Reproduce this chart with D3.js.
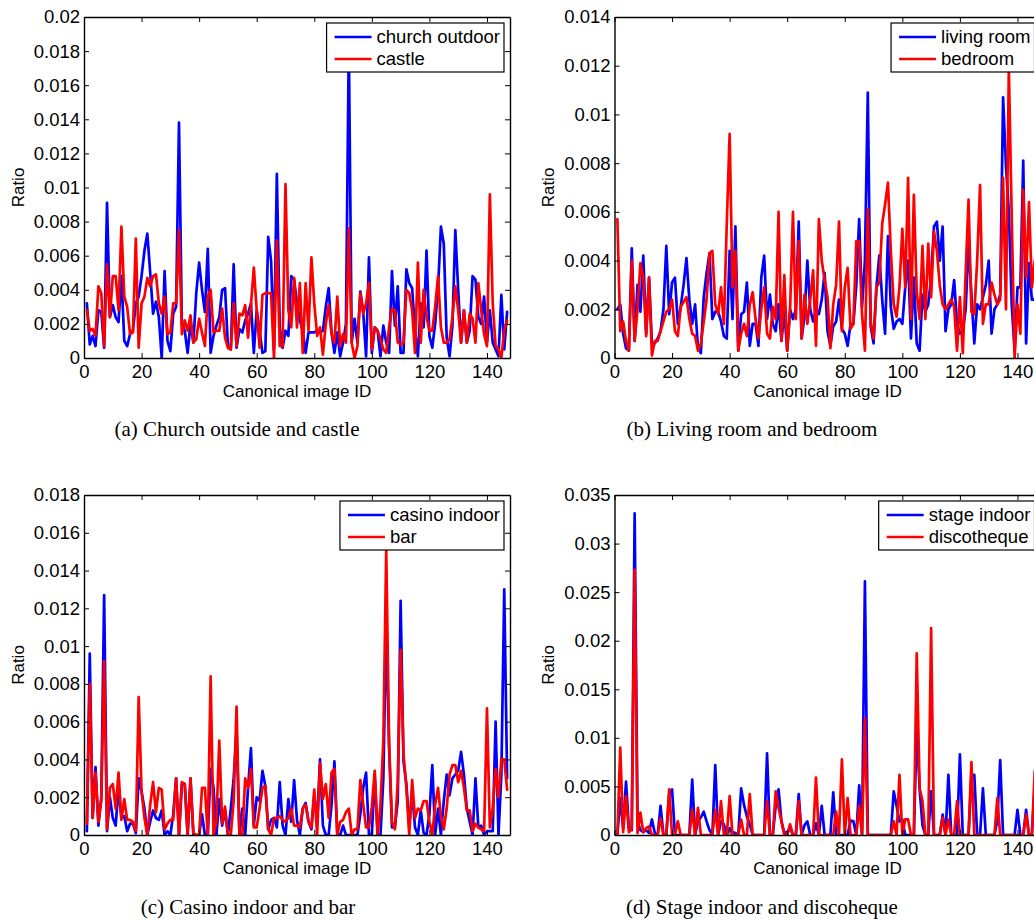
<!DOCTYPE html>
<html>
<head>
<meta charset="utf-8">
<script src="https://cdn.jsdelivr.net/npm/d3@7"></script>
<style>
  body { margin: 0; background: #fff; }
  svg { display: block; }
</style>
</head>
<body>
<svg id="fig" width="1034" height="922"></svg>
<script>
// Canonical image IDs shared by every panel
const imageIds = d3.range(1, 148);
const xTicks = [0, 20, 40, 60, 80, 100, 120, 140];

const yTicksA = [0, 0.002, 0.004, 0.006, 0.008, 0.01, 0.012, 0.014, 0.016, 0.018, 0.02];
const yTicksB = [0, 0.002, 0.004, 0.006, 0.008, 0.01, 0.012, 0.014];
const yTicksC = [0, 0.002, 0.004, 0.006, 0.008, 0.01, 0.012, 0.014, 0.016, 0.018];
const yTicksD = [0, 0.005, 0.01, 0.015, 0.02, 0.025, 0.03, 0.035];

const seriesNamesA = ["church outdoor", "castle"];
const seriesNamesB = ["living room", "bedroom"];
const seriesNamesC = ["casino indoor", "bar"];
const seriesNamesD = ["stage indoor", "discotheque"];

const captions = [
  "(a) Church outside and castle",
  "(b) Living room and bedroom",
  "(c) Casino indoor and bar",
  "(d) Stage indoor and discoheque"
];

// (a) church outdoor vs castle
const churchOutdoor = [
  .0032,.0008,.0013,.0007,.0028,.0027,.0006,.0091,.0024,.0031,
  .0024,.0021,.0048,.0010,.0007,.0014,.0016,.0032,.0036,.0048,
  .0063,.0073,.0050,.0026,.0033,.0024,.0000,.0051,.0010,.0004,
  .0026,.0030,.0138,.0020,.0016,.0003,.0020,.0009,.0038,.0056,
  .0040,
  .0027,.0064,.0003,.0013,.0019,.0024,.0040,.0041,.0007,.0005,
  .0055,.0006,.0017,.0015,.0022,.0026,.0032,.0003,.0028,.0016,
  .0003,.0004,.0071,.0057,.0005,.0108,.0018,.0006,.0016,.0013,
  .0048,.0046,.0032,.0022,.0016,.0003,.0015,.0015,.0015,.0016,
  .0015,.0016,.0030,.0041,.0015,.0003,.0015,.0001,.0009,.0020,
  .0185,.0009,.0023,.0009,.0039,.0027,.0001,.0059,.0003,.0018,
  .0016,.0001,.0019,.0009,.0003,.0051,.0019,.0042,.0003,.0003,
  .0052,.0044,.0041,.0016,.0001,.0032,.0018,.0063,.0013,.0006,
  .0020,
  .0041,.0077,.0067,.0012,.0001,.0019,.0075,.0040,.0009,.0028,
  .0009,.0016,.0048,.0046,.0024,.0020,.0036,
  .0009,.0028,.0009,.0005,.0001,.0037,.0005,.0027
];
const castle = [
  .0028,.0016,.0017,.0013,.0042,.0038,.0007,.0055,.0024,.0048,
  .0048,.0028,.0077,.0036,.0030,.0014,.0015,.0070,.0006,.0032,
  .0036,.0047,.0042,.0048,.0049,.0032,.0026,.0036,.0014,.0015,
  .0032,.0032,.0075,.0014,.0022,.0016,.0025,.0009,.0011,.0023,
  .0015,
  .0007,.0036,.0040,.0015,.0016,.0016,.0029,.0012,.0006,.0005,
  .0032,.0007,.0026,.0025,.0031,.0012,.0031,.0053,.0028,.0006,
  .0037,.0038,.0038,.0038,.0000,.0069,.0007,.0007,.0102,.0028,
  .0018,.0047,.0018,.0044,.0003,.0044,.0016,.0059,.0032,.0013,
  .0018,.0002,.0020,.0031,.0014,.0009,.0036,.0007,.0014,.0009,
  .0076,.0009,.0000,.0007,.0038,.0026,.0032,.0044,.0005,.0018,
  .0016,.0011,.0005,.0003,.0018,.0029,.0028,.0009,.0008,.0009,
  .0040,.0038,.0028,.0003,.0056,.0009,.0040,.0024,.0016,.0016,
  .0030,
  .0048,.0018,.0009,.0009,.0011,.0024,.0042,.0028,.0009,.0028,
  .0009,.0026,.0023,.0009,.0044,.0028,.0014,
  .0007,.0096,.0032,.0007,.0005,.0000,.0016,.0022
];

// (b) living room vs bedroom
const livingRoom = [
  .0020,.0022,.0010,.0004,.0003,.0045,.0007,.0030,.0019,.0042,
  .0010,.0033,.0006,.0006,.0008,.0011,.0020,.0046,.0018,.0031,
  .0033,.0014,.0021,.0030,.0041,.0024,.0014,.0022,.0004,.0002,
  .0025,.0035,.0043,.0016,.0019,.0019,.0015,.0009,.0008,.0044,
  .0016,.0054,.0003,.0018,.0019,.0031,.0005,.0014,.0014,.0005,
  .0033,.0042,.0016,.0026,.0014,.0011,.0022,.0007,.0019,.0003,
  .0020,.0016,.0020,.0056,.0008,.0017,.0040,.0020,.0015,.0020,
  .0018,.0024,.0035,.0011,.0005,.0013,.0015,.0024,.0012,.0010,
  .0005,.0014,.0014,.0030,.0057,.0021,.0040,.0109,.0013,.0006,
  .0029,.0042,.0024,.0010,.0050,.0021,.0012,.0015,.0016,.0014,
  .0029,.0040,.0008,.0033,.0006,.0003,.0026,.0019,.0022,.0033,
  .0054,.0056,.0040,.0054,.0011,.0020,.0022,.0032,.0014,.0010,
  .0011,.0020,.0047,.0026,.0006,.0022,.0020,.0025,.0030,.0040,
  .0010,.0020,.0022,.0026,.0107,.0079,.0060,.0022,.0003,.0029,
  .0029,.0081,.0006,.0039,.0024,.0024,.0030
];
const bedroom = [
  .0057,.0011,.0015,.0007,.0003,.0040,.0007,.0020,.0039,.0033,
  .0009,.0033,.0001,.0007,.0007,.0011,.0015,.0019,.0020,.0024,
  .0011,.0009,.0021,.0023,.0025,.0016,.0010,.0009,.0003,.0006,
  .0015,.0024,.0043,.0044,.0022,.0018,.0029,.0014,.0055,.0092,
  .0029,.0044,.0003,.0010,.0014,.0009,.0022,.0027,.0016,.0008,
  .0020,.0029,.0010,.0008,.0021,.0016,.0060,.0007,.0034,.0003,
  .0020,.0060,.0016,.0048,.0008,.0026,.0014,.0024,.0036,.0005,
  .0057,.0040,.0032,.0025,.0004,.0022,.0030,.0056,.0011,.0029,
  .0037,.0012,.0014,.0048,.0048,.0018,.0003,.0061,.0015,.0008,
  .0029,.0031,.0055,.0063,.0072,.0044,.0022,.0017,.0029,.0053,
  .0029,.0074,.0016,.0067,.0027,.0016,.0046,.0016,.0047,.0025,
  .0052,.0044,.0030,.0022,.0020,.0022,.0024,.0021,.0003,.0025,
  .0002,.0035,.0065,.0019,.0018,.0040,.0071,.0014,.0022,.0022,
  .0031,.0026,.0022,.0024,.0074,.0020,.0119,.0058,.0000,.0022,
  .0010,.0069,.0033,.0064,.0029,.0040,.0035
];

// (c) casino indoor vs bar
const casinoIndoor = [
  .0002,.0096,.0009,.0036,.0005,.0020,.0127,.0002,.0020,.0009,
  .0005,.0025,.0009,.0010,.0002,.0006,.0006,.0001,.0030,.0023,
  .0014,.0000,.0007,.0013,.0009,.0008,.0013,.0000,.0002,.0000,
  .0011,.0030,.0000,.0027,.0027,.0000,.0030,.0000,.0000,.0000,
  .0011,.0000,.0000,.0035,.0025,.0000,.0019,.0005,.0013,.0000,
  .0014,.0030,.0055,.0000,.0014,.0000,.0025,.0046,.0005,.0020,
  .0018,.0034,.0026,.0003,.0008,.0009,.0004,.0028,.0005,.0000,
  .0019,.0007,.0029,.0008,.0000,.0014,.0017,.0007,.0003,.0021,
  .0007,.0040,.0005,.0000,.0000,.0016,.0039,.0000,.0000,.0005,
  .0000,.0000,.0000,.0000,.0000,.0011,.0025,.0033,.0000,.0000,
  .0032,.0000,.0000,.0030,.0112,.0046,.0004,.0004,.0018,.0124,
  .0039,.0027,.0004,.0023,.0004,.0000,.0013,.0001,.0000,.0011,
  .0037,.0000,.0014,.0000,.0018,.0032,.0021,.0030,.0032,.0034,
  .0044,.0032,.0014,.0007,.0000,.0030,.0004,.0005,.0000,.0002,
  .0002,.0002,.0060,.0000,.0032,.0130,.0030
];
const bar = [
  .0006,.0080,.0009,.0033,.0007,.0018,.0092,.0003,.0025,.0027,
  .0014,.0033,.0008,.0019,.0008,.0008,.0007,.0002,.0073,.0023,
  .0009,.0000,.0016,.0028,.0012,.0025,.0024,.0003,.0006,.0008,
  .0008,.0030,.0000,.0028,.0027,.0000,.0030,.0001,.0000,.0000,
  .0025,.0025,.0000,.0084,.0000,.0007,.0050,.0006,.0015,.0000,
  .0000,.0018,.0068,.0000,.0000,.0030,.0025,.0035,.0004,.0004,
  .0014,.0025,.0026,.0003,.0000,.0009,.0009,.0010,.0008,.0007,
  .0009,.0014,.0005,.0005,.0004,.0014,.0016,.0007,.0004,.0024,
  .0000,.0038,.0019,.0027,.0009,.0033,.0035,.0000,.0007,.0008,
  .0012,.0014,.0000,.0003,.0003,.0029,.0016,.0004,.0004,.0015,
  .0034,.0000,.0016,.0050,.0151,.0048,.0007,.0003,.0028,.0098,
  .0043,.0025,.0000,.0029,.0009,.0014,.0013,.0018,.0018,.0007,
  .0000,.0016,.0025,.0010,.0003,.0014,.0032,.0037,.0037,.0028,
  .0034,.0025,.0013,.0013,.0002,.0006,.0004,.0003,.0002,.0067,
  .0004,.0014,.0035,.0020,.0040,.0040,.0024
];

// (d) stage indoor vs discotheque
const stageIndoor = [
  0,.0038,.0007,.0055,.0007,.0005,.0331,.0014,.0005,.0003,
  .0005,.0002,.0016,.0002,0,.0030,0,0,.0042,.0047,
  0,0,0,0,0,0,.0057,0,.0014,.0018,
  .0024,.0014,.0005,0,.0072,0,.0014,.0011,0,.0007,
  .0003,.0002,0,.0048,.0031,.0019,.0011,0,0,0,
  0,0,.0084,0,0,.0030,.0047,.0014,.0002,.0003,
  .0007,0,0,.0042,0,.0010,.0014,0,0,.0012,
  0,.0030,0,0,0,.0044,0,0,0,0,
  0,.0015,.0014,0,.0051,0,.0261,0,0,0,
  0,0,0,0,0,0,.0045,.0030,.0014,.0016,
  0,0,0,0,.0110,.0048,.0010,0,0,.0045,
  0,0,0,.0021,0,.0062,0,0,0,.0083,
  0,0,0,.0062,.0062,0,0,.0048,0,0,
  0,0,.0015,.0077,0,0,0,0,0,.0026,
  0,0,.0026,0,0,.0050,.0020
];
const discotheque = [
  0,.0090,.0003,.0040,.0003,.0007,.0273,.0002,.0023,.0003,
  .0007,.0009,0,0,0,.0017,0,0,.0047,0,
  0,.0014,0,0,0,0,.0026,0,.0028,0,
  0,0,0,0,.0026,0,.0035,0,0,.0040,
  0,0,0,.0016,0,0,.0042,0,0,0,
  0,0,.0035,0,0,.0045,.0028,.0014,0,0,
  .0011,0,0,.0035,0,0,0,0,0,.0059,
  0,0,0,0,0,0,.0024,0,.0078,0,
  .0038,0,0,0,.0030,0,.0120,0,0,0,
  0,0,0,0,0,0,.0014,0,.0062,0,
  .0016,.0016,0,0,.0187,.0048,.0035,0,0,.0213,
  0,0,0,.0018,0,.0016,0,0,.0035,0,
  0,0,0,.0075,0,0,0,0,0,0,
  0,0,.0038,0,0,0,0,0,0,0,
  0,0,.0021,0,0,.0066,0
];

const seriesColors = ["#0000ff", "#ff0000"];

// Layout of the four panels (pixels)
const panels = [
  { left: 84,    top: 17,  width: 426, height: 341, yMax: 0.02,  yTicks: yTicksA, names: seriesNamesA, values: [churchOutdoor, castle],      caption: captions[0], capX: 237, capY: 436 },
  { left: 614.5, top: 17,  width: 426, height: 341, yMax: 0.014, yTicks: yTicksB, names: seriesNamesB, values: [livingRoom, bedroom],        caption: captions[1], capX: 752, capY: 436 },
  { left: 84,    top: 495, width: 426, height: 340, yMax: 0.018, yTicks: yTicksC, names: seriesNamesC, values: [casinoIndoor, bar],         caption: captions[2], capX: 248, capY: 914 },
  { left: 614.5, top: 495, width: 426, height: 340, yMax: 0.035, yTicks: yTicksD, names: seriesNamesD, values: [stageIndoor, discotheque],  caption: captions[3], capX: 762, capY: 914 }
];

const sansFont = "'Liberation Sans', Arial, Helvetica, sans-serif";
const serifFont = "'Liberation Serif', 'Times New Roman', serif";
const tickFmt = d => String(+d.toFixed(4));

const svg = d3.select("#fig");

panels.forEach((p, idx) => {
  const g = svg.append("g");
  const x = d3.scaleLinear().domain([0, 148]).range([p.left, p.left + p.width]);
  const y = d3.scaleLinear().domain([0, p.yMax]).range([p.top + p.height, p.top]);

  const clipId = "plot-clip-" + idx;
  g.append("clipPath").attr("id", clipId)
    .append("rect")
    .attr("x", p.left).attr("y", p.top)
    .attr("width", p.width).attr("height", p.height);

  const line = d3.line()
    .x((d, i) => x(imageIds[i]))
    .y(d => y(d));

  const lines = g.append("g").attr("clip-path", `url(#${clipId})`);
  p.values.forEach((vals, k) => {
    lines.append("path")
      .datum(vals)
      .attr("d", line)
      .attr("fill", "none")
      .attr("stroke", seriesColors[k])
      .attr("stroke-width", 2.7)
      .attr("stroke-linejoin", "round")
      .attr("stroke-linecap", "round");
  });

  // Axes: ticks point inward on all four sides, labels on left and bottom
  const styleAxis = (sel) => {
    sel.select(".domain").attr("stroke", "#000").attr("stroke-width", 1.4);
    sel.selectAll(".tick line").attr("stroke", "#000").attr("stroke-width", 1);
    sel.selectAll("text")
      .attr("fill", "#000")
      .style("font-family", sansFont)
      .style("font-size", "18.5px");
  };

  g.append("g")
    .attr("transform", `translate(0,${p.top + p.height})`)
    .call(d3.axisBottom(x).tickValues(xTicks).tickSize(-5).tickSizeOuter(0).tickPadding(7).tickFormat(d3.format("d")))
    .call(styleAxis);

  g.append("g")
    .attr("transform", `translate(0,${p.top})`)
    .call(d3.axisTop(x).tickValues(xTicks).tickSize(-5).tickSizeOuter(0).tickFormat(""))
    .call(styleAxis);

  g.append("g")
    .attr("transform", `translate(${p.left},0)`)
    .call(d3.axisLeft(y).tickValues(p.yTicks).tickSize(-5).tickSizeOuter(0).tickPadding(4).tickFormat(tickFmt))
    .call(styleAxis);

  g.append("g")
    .attr("transform", `translate(${p.left + p.width},0)`)
    .call(d3.axisRight(y).tickValues(p.yTicks).tickSize(-5).tickSizeOuter(0).tickFormat(""))
    .call(styleAxis);

  // Axis titles
  g.append("text")
    .attr("x", p.left + p.width / 2)
    .attr("y", p.top + p.height + 39)
    .attr("text-anchor", "middle")
    .style("font-family", sansFont)
    .style("font-size", "17px")
    .text("Canonical image ID");

  g.append("text")
    .attr("transform", `translate(${p.left - 66},${p.top + p.height / 2}) rotate(-90)`)
    .attr("text-anchor", "middle")
    .attr("dy", "0.35em")
    .style("font-family", sansFont)
    .style("font-size", "17px")
    .text("Ratio");

  // Legend box in the upper-right corner
  const legend = g.append("g");
  const texts = p.names.map((name, k) =>
    legend.append("text")
      .attr("x", 0).attr("y", 0)
      .style("font-family", sansFont)
      .style("font-size", "18.5px")
      .text(name));
  const textW = d3.max(texts, t => t.node().getComputedTextLength());
  const boxW = 50 + textW + 4;
  const boxRight = p.left + p.width - 6;
  const boxLeft = boxRight - boxW;
  const boxTop = p.top + 6;
  legend.insert("rect", "text")
    .attr("x", boxLeft).attr("y", boxTop)
    .attr("width", boxW).attr("height", 49)
    .attr("fill", "#fff")
    .attr("stroke", "#000")
    .attr("stroke-width", 1.2);
  p.names.forEach((name, k) => {
    const ly = boxTop + 14 + k * 22;
    legend.append("line")
      .attr("x1", boxLeft + 8).attr("x2", boxLeft + 45)
      .attr("y1", ly).attr("y2", ly)
      .attr("stroke", seriesColors[k])
      .attr("stroke-width", 2.7);
    texts[k].attr("x", boxLeft + 50).attr("y", ly).attr("dy", "0.35em");
  });

  // Sub-figure caption
  svg.append("text")
    .attr("x", p.capX)
    .attr("y", p.capY)
    .attr("text-anchor", "middle")
    .style("font-family", serifFont)
    .style("font-size", "21px")
    .text(p.caption);
});
</script>
</body>
</html>
